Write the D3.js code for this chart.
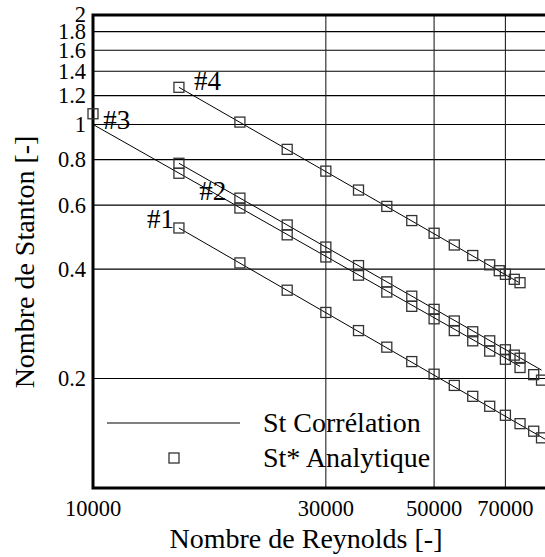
<!DOCTYPE html>
<html>
<head>
<meta charset="utf-8">
<script src="https://cdn.jsdelivr.net/npm/d3@7"></script>
</head>
<body style="margin:0">
<svg id="stanton" font-family="serif"></svg>
<script>
// Reynolds values and St* (analytique) for each profile
const re1 = [15000, 20000, 25000, 30000, 35000, 40000, 45000, 50000, 55000, 60000, 65000, 70000, 75000, 80000, 83000];
const st1 = [0.519, 0.416, 0.350, 0.304, 0.271, 0.244, 0.2227, 0.2056, 0.1915, 0.1787, 0.1678, 0.1585, 0.1503, 0.1433, 0.1374];

const re2 = [15000, 20000, 25000, 30000, 35000, 40000, 45000, 50000, 55000, 60000, 65000, 70000, 73000, 75000];
const st2 = [0.782, 0.627, 0.529, 0.460, 0.409, 0.369, 0.337, 0.310, 0.288, 0.269, 0.254, 0.240, 0.232, 0.2275];

const re3 = [10000, 15000, 20000, 25000, 30000, 35000, 40000, 45000, 50000, 55000, 60000, 65000, 70000, 75000, 80000, 83000];
const st3 = [1.07, 0.734, 0.589, 0.497, 0.432, 0.385, 0.346, 0.316, 0.292, 0.271, 0.254, 0.238, 0.226, 0.2145, 0.205, 0.198];

const re4 = [15000, 20000, 25000, 30000, 35000, 40000, 45000, 50000, 55000, 60000, 65000, 68000, 70000, 73000, 75000];
const st4 = [1.265, 1.015, 0.854, 0.744, 0.660, 0.595, 0.544, 0.502, 0.466, 0.436, 0.411, 0.396, 0.387, 0.375, 0.367];

// correlation lines: [Re start, Re end] and [St start, St end]
const corrRe = [[15000, 85000], [15000, 83000], [10000, 75000], [15000, 74500]];
const corrSt = [[0.519, 0.1355], [0.782, 0.211], [1.0, 0.216], [1.265, 0.368]];

const seriesNames = ["#1", "#2", "#3", "#4"];
const labelRe = [12900, 16500, 10500, 16100];
const labelSt = [0.52, 0.62, 0.97, 1.245];

const xTicks = [10000, 30000, 50000, 70000];
const xGrid = [30000, 50000, 70000];
const yTicks = [0.2, 0.4, 0.6, 0.8, 1, 1.2, 1.4, 1.6, 1.8, 2];
const yGrid = [0.2, 0.4, 0.6, 0.8, 1, 1.2, 1.4, 1.6, 1.8];

const legendLabels = ["St Corrélation", "St* Analytique"];

const W = 545, H = 557;
const svg = d3.select("#stanton").attr("width", W).attr("height", H);

const x = d3.scaleLog().domain([10000, 100000]).range([93, 581]);
const y = d3.scaleLog().domain([0.1, 2]).range([488, 15]);

// grid
svg.append("g").selectAll("line").data(yGrid).enter().append("line")
  .attr("x1", x(10000)).attr("x2", W)
  .attr("y1", d => y(d)).attr("y2", d => y(d))
  .attr("stroke", "#000").attr("stroke-width", 1.1);

svg.append("g").selectAll("line").data(xGrid).enter().append("line")
  .attr("x1", d => x(d)).attr("x2", d => x(d))
  .attr("y1", y(2)).attr("y2", y(0.1))
  .attr("stroke", "#222").attr("stroke-width", 1.1);

// frame (left, top, bottom)
svg.append("path")
  .attr("d", `M${W},${y(2)} H${x(10000)} V${y(0.1)} H${W}`)
  .attr("fill", "none").attr("stroke", "#000").attr("stroke-width", 3);

// tick labels
svg.append("g").selectAll("text").data(yTicks).enter().append("text")
  .attr("x", 86).attr("y", d => y(d)).attr("dy", "0.33em")
  .attr("text-anchor", "end")
  .attr("font-family", "serif").attr("font-size", 22.5)
  .text(d => d);

svg.append("g").selectAll("text").data(xTicks).enter().append("text")
  .attr("x", d => x(d)).attr("y", 516)
  .attr("text-anchor", "middle")
  .attr("font-family", "serif").attr("font-size", 22.5)
  .text(d => d);

// axis titles
svg.append("text")
  .attr("x", 306).attr("y", 548)
  .attr("text-anchor", "middle")
  .attr("font-family", "serif").attr("font-size", 28)
  .text("Nombre de Reynolds [-]");

svg.append("text")
  .attr("transform", "translate(34,262) rotate(-90)")
  .attr("text-anchor", "middle")
  .attr("font-family", "serif").attr("font-size", 28)
  .text("Nombre de Stanton [-]");

// correlation lines
const line = d3.line().x(d => x(d[0])).y(d => y(d[1]));
svg.append("g").selectAll("path").data(corrRe).enter().append("path")
  .attr("d", (d, i) => line([[d[0], corrSt[i][0]], [d[1], corrSt[i][1]]]))
  .attr("fill", "none").attr("stroke", "#000").attr("stroke-width", 1);

// analytic points
const sq = 10;
const allRe = [re1, re2, re3, re4];
const allSt = [st1, st2, st3, st4];
allRe.forEach((res, k) => {
  svg.append("g").selectAll("rect").data(res).enter().append("rect")
    .attr("x", d => x(d) - sq / 2)
    .attr("y", (d, i) => y(allSt[k][i]) - sq / 2)
    .attr("width", sq).attr("height", sq)
    .attr("fill", "none").attr("stroke", "#333").attr("stroke-width", 1.3);
});

// series labels
svg.append("g").selectAll("text").data(seriesNames).enter().append("text")
  .attr("x", (d, i) => x(labelRe[i])).attr("y", (d, i) => y(labelSt[i]))
  .attr("font-family", "serif").attr("font-size", 27)
  .text(d => d);

// legend
svg.append("line")
  .attr("x1", 107).attr("x2", 240).attr("y1", 423).attr("y2", 423)
  .attr("stroke", "#000").attr("stroke-width", 1);
svg.append("rect")
  .attr("x", 174 - sq / 2).attr("y", 458 - sq / 2)
  .attr("width", sq).attr("height", sq)
  .attr("fill", "none").attr("stroke", "#333").attr("stroke-width", 1.3);
svg.append("g").selectAll("text").data(legendLabels).enter().append("text")
  .attr("x", 263).attr("y", (d, i) => 432 + i * 35)
  .attr("font-family", "serif").attr("font-size", 28)
  .text(d => d);
</script>
</body>
</html>
